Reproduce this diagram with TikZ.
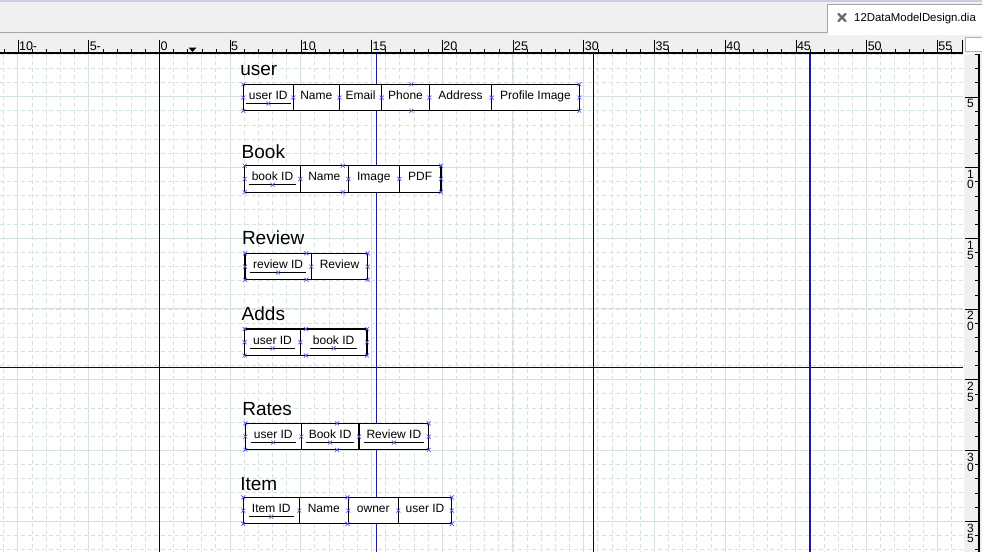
\documentclass[tikz,border=0pt]{standalone}
\usepackage{fontspec}
\setmainfont{Liberation Sans}
\usetikzlibrary{positioning,calc}
\definecolor{gridc}{RGB}{214,226,224}
\definecolor{pagec}{RGB}{0,0,115}
\definecolor{guidec}{RGB}{25,25,165}
\definecolor{cpc}{RGB}{90,90,240}
\definecolor{barc}{RGB}{240,240,240}
\definecolor{topc}{RGB}{200,204,228}
\newcommand\keyf[1]{\setbox0\hbox{#1}\rlap{\hspace{-3pt}\rule[-4.6pt]{\dimexpr\wd0+6pt\relax}{0.9pt}}\box0}
\newcommand\cpx[1]{\draw[cp] (#1) +(-2,-2) -- +(2,2) +(-2,2) -- +(2,-2);}
\newcommand\cpbox[2]{%
  \foreach \p in {#1.north west,#1.west,#1.south west,#2.north east,#2.east,#2.south east}{\cpx{\p}}
  \cpx{$(#1.north west)!0.5!(#2.north east)$}
  \cpx{$(#1.south west)!0.5!(#2.south east)$}}
\tikzset{
  cell/.style={draw, line width=1.1pt, fill=white, minimum height=26.5pt, inner sep=0pt, outer sep=0pt,
    font=\fontsize{12}{14}\selectfont, text height=8.5pt, text depth=5pt},
  title/.style={inner sep=0pt, outer sep=0pt, text depth=0pt, font=\fontsize{19}{22}\selectfont},
  cp/.style={draw=cpc, line width=0.7pt},
  gmin/.style={gridc, line width=0.8pt, dash pattern=on 3.5pt off 3.5pt},
  gmaj/.style={gridc, line width=1pt},
  rlab/.style={inner sep=0pt, font=\fontsize{12.5}{14}\selectfont},
  vlab/.style={inner sep=0pt, align=center, font=\fontsize{12}{10.5}\selectfont}
}
\begin{document}
\begin{tikzpicture}[x=1pt, y=-1pt]
  \useasboundingbox (0,0) rectangle (982,552);

  % window bar and tab
  \fill[barc] (0,0) rectangle (982,53);
  \draw[topc, line width=1.5pt] (0,0.75) -- (982,0.75);
  \fill[white] (827.5,4.5) rectangle (982,35);
  \draw[gray!70] (0,32.5) -| (827.5,4.5) -- (982,4.5);
  \draw[gray!85!black, line width=2.2pt, line cap=round] (838.5,14) -- (845.5,21) (838.5,21) -- (845.5,14);
  \node[anchor=west, inner sep=0pt, font=\fontsize{11.4}{14}\selectfont] (tabT) at (854,18.5) {12DataModelDesign.dia};

  % canvas and grid
  \fill[white] (0,54) rectangle (963,552);
  \begin{scope}
    \clip (0,54) rectangle (963,552);
    \foreach \k in {-11,...,56}{
      \pgfmathsetmacro\xx{159.3+14.145*\k}
      \draw[gmin] (\xx,54) -- (\xx,552);
    }
    \foreach \k in {2,...,37}{
      \pgfmathsetmacro\yy{26+14.145*\k}
      \draw[gmin] (0,\yy) -- (963,\yy);
    }
    \foreach \k in {-10,-5,...,55}{
      \pgfmathsetmacro\xx{159.3+14.145*\k}
      \draw[gmaj] (\xx,54) -- (\xx,552);
    }
    \foreach \k in {5,10,...,35}{
      \pgfmathsetmacro\yy{26+14.145*\k}
      \draw[gmaj] (0,\yy) -- (963,\yy);
    }
  \end{scope}

  % page breaks and guides
  \draw[pagec, line width=1.3pt] (159.5,54) -- (159.5,552) (593.3,54) -- (593.3,552) (0,367.3) -- (963,367.3);
  \draw[guidec, line width=1.3pt] (376.7,54) -- (376.7,552) (810,54) -- (810,552);

  % horizontal ruler
  \foreach \k in {-11,...,56}{
    \pgfmathsetmacro\xx{159.3+14.145*\k}
    \draw (\xx,49.3) -- (\xx,53);
  }
  \foreach \k in {-10,-5,...,55}{
    \pgfmathsetmacro\xx{159.3+14.145*\k}
    \draw (\xx,39.5) -- (\xx,53);
    \node[rlab, anchor=base west] (hl\k) at (\xx+1,50) {\ifnum\k<0 \the\numexpr-\k\relax-\else\k\fi};
  }
  \draw[line width=2pt] (0,53.3) -- (962.5,53.3);
  \draw (962.5,39.5) -- (962.5,53);
  \fill (188.5,47.5) -- (196.5,47.5) -- (192.5,52) -- cycle;
  \filldraw[fill=white, draw=gray!60] (965.5,37) rectangle (983,51.5);

  % vertical ruler
  \fill[barc] (964,54.3) rectangle (982,552);
  \foreach \k in {2,...,37}{
    \pgfmathsetmacro\yy{26+14.145*\k}
    \draw (975,\yy) -- (979.3,\yy);
  }
  \foreach \k in {5,10,...,35}{
    \pgfmathsetmacro\yy{26+14.145*\k}
    \pgfmathtruncatemacro\dA{\k/10}
    \pgfmathtruncatemacro\dB{mod(\k,10)}
    \ifnum\k<10 \def\vtxt{\dB}\else\def\vtxt{\dA\\\dB}\fi
    \draw (965,\yy) -- (979.3,\yy);
    \node[vlab, anchor=north] (vl\k) at (970.5,\yy+2.5) {\vtxt};
  }
  \draw[line width=2pt] (979.3,54.3) -- (979.3,552);

  % user
  \node[cell, minimum width=50pt, anchor=north west] (u1) at (243.3,84.3) {\keyf{user ID}};
  \node[cell, minimum width=46pt, right=0pt of u1] (u2) {Name};
  \node[cell, minimum width=42.4pt, right=0pt of u2] (u3) {Email};
  \node[cell, minimum width=47.6pt, right=0pt of u3] (u4) {Phone};
  \node[cell, minimum width=62.4pt, right=0pt of u4] (u5) {Address};
  \node[cell, minimum width=87.6pt, right=0pt of u5] (u6) {Profile Image};
  \node[title, above right=8.6pt and -3pt of u1.north west] (userT) {user};

  % Book
  \node[cell, minimum width=55.6pt, anchor=north west] (b1) at (244.7,165.7) {\keyf{book ID}};
  \node[cell, minimum width=48pt, right=0pt of b1] (b2) {Name};
  \node[cell, minimum width=51pt, right=0pt of b2] (b3) {Image};
  \node[cell, minimum width=41.7pt, right=0pt of b3] (b4) {PDF};
  \node[title, above right=6.8pt and -3pt of b1.north west] (bookT) {Book};

  % Review
  \node[cell, minimum width=66.3pt, anchor=north west] (r1) at (245,253.3) {\keyf{review ID}};
  \node[cell, minimum width=56.4pt, right=0pt of r1] (r2) {Review};
  \node[title, above right=9pt and -3pt of r1.north west] (reviewT) {Review};

  % Adds
  \node[cell, minimum width=55.6pt, anchor=north west] (a1) at (244.7,329) {\keyf{user ID}};
  \node[cell, minimum width=66.7pt, right=0pt of a1] (a2) {\keyf{book ID}};
  \node[title, above right=8.3pt and -3pt of a1.north west] (addsT) {Adds};

  % Rates
  \node[cell, minimum width=56pt, anchor=north west] (t1) at (245.3,423.3) {\keyf{user ID}};
  \node[cell, minimum width=57.7pt, right=0pt of t1] (t2) {\keyf{Book ID}};
  \node[cell, minimum width=69.7pt, right=0pt of t2] (t3) {\keyf{Review ID}};
  \node[title, above right=8.3pt and -3pt of t1.north west] (ratesT) {Rates};

  % Item
  \node[cell, minimum width=56pt, anchor=north west] (i1) at (243.3,497.3) {\keyf{Item ID}};
  \node[cell, minimum width=49pt, right=0pt of i1] (i2) {Name};
  \node[cell, minimum width=50pt, right=0pt of i2] (i3) {owner};
  \node[cell, minimum width=53.4pt, right=0pt of i3] (i4) {user ID};
  \node[title, above right=7.3pt and -3pt of i1.north west] (itemT) {Item};

  % connection points
  \cpbox{u1}{u6}
  \cpbox{b1}{b4}
  \cpbox{r1}{r2}
  \cpbox{a1}{a2}
  \cpbox{t1}{t3}
  \cpbox{i1}{i4}
  \foreach \c in {u1,u2,u3,u4,u5,b1,b2,b3,r1,a1,t1,t2,i1,i2,i3}{\cpx{\c.east}}
  \foreach \c in {u1,b1,r1,a1,a2,t1,t2,t3,i1}{\cpx{[yshift=-6pt]\c.center}}
\end{tikzpicture}
\end{document}
